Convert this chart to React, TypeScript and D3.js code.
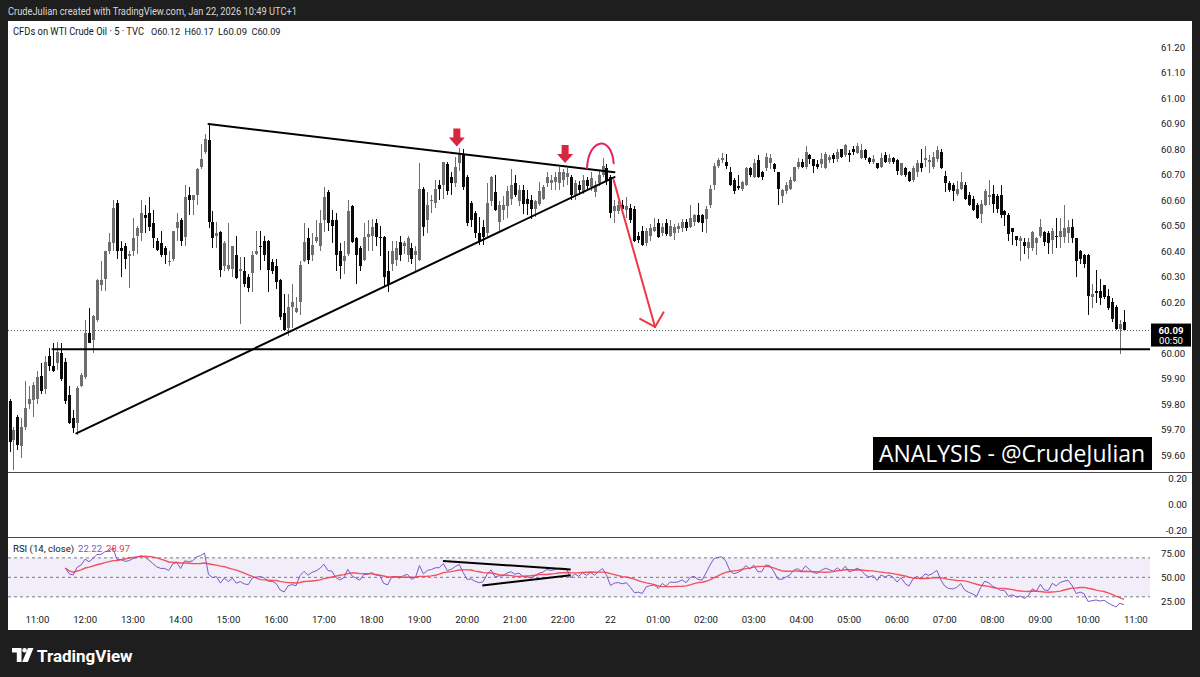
import React from "react";
import * as d3 from "d3";

type Bar = [number, number, number, number]; // open, high, low, close

// ---------- DATA ----------
const SESSION_1_START = "10:25"; // Jan 21, 5-minute bars until 22:55
const SESSION_2_START = "00:00"; // Jan 22, 5-minute bars until 10:45
const BAR_MINUTES = 5;
const FUTURE_BARS = 3;

const SESSION_1_BARS: Bar[] = [
  [59.81, 59.82, 59.61, 59.65], [59.66, 59.71, 59.54, 59.7], [59.75, 59.755, 59.62, 59.64], [59.635, 59.745, 59.59, 59.71],
  [59.71, 59.89, 59.7, 59.785], [59.8, 59.87, 59.78, 59.82], [59.815, 59.885, 59.75, 59.875], [59.82, 59.93, 59.8, 59.905],
  [59.91, 59.96, 59.84, 59.85], [59.86, 59.99, 59.84, 59.965], [59.99, 60.02, 59.93, 59.95], [59.95, 60.04, 59.925, 59.93],
  [59.96, 60.045, 59.935, 60.005], [60.0, 60.04, 59.89, 59.9], [59.966, 59.98, 59.8, 59.813], [59.835, 59.87, 59.72, 59.725],
  [59.745, 59.775, 59.686, 59.706], [59.725, 59.87, 59.68, 59.864], [59.87, 59.92, 59.865, 59.914], [59.905, 60.13, 59.9, 60.078],
  [60.08, 60.176, 60.04, 60.04], [60.05, 60.15, 60.0, 60.145], [60.13, 60.29, 60.12, 60.286], [60.266, 60.36, 60.245, 60.286],
  [60.29, 60.4, 60.245, 60.4], [60.4, 60.47, 60.39, 60.436], [60.43, 60.6, 60.4, 60.57], [60.59, 60.6, 60.37, 60.4],
  [60.41, 60.44, 60.3, 60.4], [60.42, 60.43, 60.33, 60.37], [60.38, 60.4, 60.255, 60.39], [60.4, 60.53, 60.38, 60.45],
  [60.46, 60.5, 60.39, 60.49], [60.47, 60.6, 60.44, 60.55], [60.54, 60.58, 60.47, 60.53], [60.55, 60.61, 60.48, 60.495],
  [60.51, 60.56, 60.41, 60.45], [60.44, 60.45, 60.4, 60.405], [60.43, 60.48, 60.375, 60.385], [60.41, 60.42, 60.35, 60.385],
  [60.355, 60.4, 60.34, 60.36], [60.37, 60.48, 60.36, 60.48], [60.49, 60.55, 60.44, 60.515], [60.52, 60.53, 60.42, 60.44],
  [60.455, 60.66, 60.42, 60.61], [60.62, 60.65, 60.54, 60.6], [60.6, 60.62, 60.54, 60.62], [60.62, 60.725, 60.58, 60.72],
  [60.73, 60.82, 60.72, 60.76], [60.79, 60.86, 60.78, 60.84], [60.835, 60.9, 60.49, 60.515], [60.515, 60.555, 60.41, 60.45],
  [60.46, 60.515, 60.41, 60.47], [60.475, 60.48, 60.3, 60.325], [60.34, 60.44, 60.32, 60.43], [60.33, 60.51, 60.32, 60.345],
  [60.33, 60.42, 60.3, 60.42], [60.385, 60.46, 60.29, 60.295], [60.32, 60.375, 60.115, 60.33], [60.32, 60.375, 60.26, 60.27],
  [60.3, 60.31, 60.24, 60.255], [60.315, 60.4, 60.24, 60.385], [60.39, 60.48, 60.385, 60.4], [60.42, 60.48, 60.325, 60.415],
  [60.44, 60.46, 60.36, 60.385], [60.44, 60.445, 60.24, 60.325], [60.355, 60.37, 60.31, 60.32], [60.34, 60.37, 60.25, 60.28],
  [60.285, 60.29, 60.13, 60.14], [60.155, 60.23, 60.085, 60.09], [60.1, 60.23, 60.065, 60.18], [60.18, 60.27, 60.1, 60.2],
  [60.16, 60.22, 60.155, 60.175], [60.2, 60.36, 60.15, 60.345], [60.36, 60.51, 60.355, 60.435], [60.45, 60.49, 60.35, 60.365],
  [60.385, 60.47, 60.36, 60.425], [60.44, 60.52, 60.43, 60.455], [60.42, 60.56, 60.4, 60.51], [60.52, 60.65, 60.475, 60.61],
  [60.63, 60.64, 60.48, 60.51], [60.52, 60.56, 60.43, 60.5], [60.52, 60.55, 60.32, 60.385], [60.4, 60.43, 60.29, 60.34],
  [60.36, 60.44, 60.31, 60.38], [60.39, 60.6, 60.38, 60.555], [60.575, 60.58, 60.43, 60.435], [60.45, 60.455, 60.27, 60.385],
  [60.41, 60.42, 60.32, 60.34], [60.365, 60.51, 60.36, 60.455], [60.455, 60.52, 60.4, 60.465], [60.46, 60.525, 60.4, 60.495],
  [60.51, 60.525, 60.42, 60.455], [60.455, 60.5, 60.38, 60.45], [60.455, 60.46, 60.26, 60.3], [60.32, 60.4, 60.24, 60.265],
  [60.35, 60.44, 60.32, 60.4], [60.365, 60.44, 60.34, 60.41], [60.435, 60.46, 60.36, 60.385], [60.42, 60.44, 60.39, 60.43],
  [60.385, 60.46, 60.355, 60.45], [60.41, 60.43, 60.35, 60.37], [60.385, 60.42, 60.32, 60.4], [60.365, 60.745, 60.36, 60.645],
  [60.645, 60.65, 60.46, 60.495], [60.52, 60.63, 60.47, 60.58], [60.595, 60.62, 60.55, 60.6], [60.59, 60.68, 60.57, 60.645],
  [60.66, 60.68, 60.6, 60.645], [60.66, 60.75, 60.605, 60.75], [60.74, 60.75, 60.62, 60.635], [60.69, 60.71, 60.62, 60.665],
  [60.665, 60.77, 60.65, 60.73], [60.745, 60.805, 60.715, 60.785], [60.775, 60.8, 60.64, 60.65], [60.69, 60.7, 60.5, 60.51],
  [60.59, 60.595, 60.495, 60.52], [60.55, 60.555, 60.45, 60.47], [60.47, 60.535, 60.425, 60.44], [60.495, 60.52, 60.425, 60.455],
  [60.47, 60.665, 60.455, 60.59], [60.595, 60.695, 60.575, 60.69], [60.63, 60.7, 60.555, 60.56], [60.515, 60.595, 60.48, 60.58],
  [60.56, 60.615, 60.52, 60.58], [60.575, 60.655, 60.53, 60.635], [60.605, 60.72, 60.58, 60.66], [60.665, 60.7, 60.61, 60.62],
  [60.595, 60.66, 60.575, 60.64], [60.64, 60.66, 60.545, 60.585], [60.605, 60.64, 60.54, 60.585], [60.6, 60.62, 60.525, 60.565],
  [60.565, 60.6, 60.535, 60.595], [60.585, 60.67, 60.575, 60.635], [60.605, 60.66, 60.6, 60.65], [60.665, 60.71, 60.65, 60.69],
  [60.665, 60.7, 60.64, 60.68], [60.67, 60.71, 60.64, 60.69], [60.665, 60.73, 60.64, 60.71], [60.68, 60.72, 60.65, 60.71],
  [60.69, 60.725, 60.66, 60.705], [60.69, 60.7, 60.6, 60.62], [60.62, 60.68, 60.6, 60.665], [60.66, 60.675, 60.62, 60.64],
  [60.63, 60.7, 60.625, 60.68], [60.68, 60.69, 60.64, 60.655], [60.65, 60.71, 60.635, 60.685], [60.63, 60.675, 60.61, 60.66],
  [60.665, 60.715, 60.655, 60.7], [60.7, 60.765, 60.69, 60.735], [60.725, 60.74, 60.66, 60.675],
];

const SESSION_2_BARS: Bar[] = [
  [60.69, 60.7, 60.53, 60.55], [60.555, 60.6, 60.51, 60.575], [60.555, 60.595, 60.545, 60.58], [60.58, 60.6, 60.555, 60.565],
  [60.56, 60.61, 60.53, 60.575], [60.57, 60.585, 60.51, 60.52], [60.565, 60.575, 60.435, 60.44], [60.46, 60.475, 60.43, 60.445],
  [60.48, 60.5, 60.42, 60.425], [60.43, 60.49, 60.42, 60.48], [60.46, 60.505, 60.44, 60.49], [60.48, 60.53, 60.475, 60.495],
  [60.51, 60.525, 60.45, 60.455], [60.47, 60.51, 60.46, 60.495], [60.51, 60.525, 60.46, 60.465], [60.46, 60.52, 60.455, 60.5],
  [60.47, 60.505, 60.445, 60.495], [60.485, 60.51, 60.47, 60.5], [60.49, 60.525, 60.475, 60.515], [60.515, 60.525, 60.48, 60.49],
  [60.495, 60.58, 60.49, 60.53], [60.515, 60.545, 60.5, 60.54], [60.54, 60.59, 60.51, 60.515], [60.54, 60.545, 60.475, 60.51],
  [60.525, 60.575, 60.47, 60.565], [60.58, 60.66, 60.57, 60.645], [60.66, 60.745, 60.64, 60.735], [60.735, 60.765, 60.725, 60.755],
  [60.755, 60.785, 60.745, 60.765], [60.75, 60.78, 60.72, 60.735], [60.71, 60.73, 60.655, 60.66], [60.68, 60.685, 60.625, 60.635],
  [60.655, 60.7, 60.64, 60.648], [60.645, 60.675, 60.635, 60.67], [60.66, 60.73, 60.655, 60.725], [60.725, 60.73, 60.69, 60.7],
  [60.69, 60.76, 60.685, 60.745], [60.755, 60.775, 60.685, 60.69], [60.71, 60.715, 60.68, 60.69], [60.725, 60.785, 60.715, 60.77],
  [60.745, 60.78, 60.72, 60.765], [60.74, 60.745, 60.71, 60.72], [60.71, 60.71, 60.58, 60.645], [60.615, 60.645, 60.59, 60.64],
  [60.635, 60.67, 60.625, 60.66], [60.645, 60.69, 60.64, 60.68], [60.675, 60.73, 60.67, 60.73], [60.73, 60.765, 60.72, 60.75],
  [60.75, 60.76, 60.725, 60.73], [60.73, 60.81, 60.72, 60.79], [60.775, 60.78, 60.74, 60.76], [60.76, 60.76, 60.705, 60.735],
  [60.74, 60.755, 60.72, 60.73], [60.74, 60.785, 60.725, 60.76], [60.725, 60.79, 60.72, 60.78], [60.755, 60.775, 60.745, 60.77],
  [60.775, 60.785, 60.745, 60.76], [60.76, 60.8, 60.75, 60.79], [60.8, 60.8, 60.765, 60.77], [60.776, 60.82, 60.77, 60.815],
  [60.785, 60.795, 60.75, 60.775], [60.8, 60.81, 60.775, 60.79], [60.785, 60.825, 60.78, 60.81], [60.765, 60.82, 60.76, 60.795],
  [60.795, 60.8, 60.755, 60.765], [60.765, 60.77, 60.74, 60.75], [60.75, 60.775, 60.74, 60.76], [60.745, 60.745, 60.72, 60.725],
  [60.73, 60.785, 60.725, 60.765], [60.775, 60.79, 60.745, 60.75], [60.75, 60.78, 60.74, 60.765], [60.765, 60.77, 60.74, 60.75],
  [60.755, 60.76, 60.7, 60.715], [60.7, 60.745, 60.695, 60.745], [60.725, 60.73, 60.69, 60.7], [60.71, 60.715, 60.67, 60.675],
  [60.68, 60.735, 60.67, 60.725], [60.71, 60.755, 60.69, 60.745], [60.745, 60.8, 60.71, 60.725], [60.755, 60.81, 60.73, 60.765],
  [60.75, 60.775, 60.705, 60.755], [60.73, 60.79, 60.72, 60.77], [60.76, 60.81, 60.75, 60.795], [60.79, 60.8, 60.72, 60.725],
  [60.695, 60.715, 60.63, 60.665], [60.665, 60.675, 60.63, 60.64], [60.66, 60.665, 60.595, 60.635], [60.625, 60.675, 60.615, 60.645],
  [60.645, 60.71, 60.64, 60.67], [60.66, 60.67, 60.6, 60.605], [60.62, 60.63, 60.575, 60.58], [60.605, 60.615, 60.555, 60.56],
  [60.58, 60.59, 60.525, 60.53], [60.545, 60.6, 60.51, 60.585], [60.58, 60.645, 60.575, 60.635], [60.61, 60.68, 60.58, 60.62],
  [60.625, 60.66, 60.55, 60.585], [60.615, 60.625, 60.55, 60.565], [60.62, 60.66, 60.53, 60.54], [60.555, 60.56, 60.5, 60.54],
  [60.54, 60.55, 60.44, 60.465], [60.49, 60.49, 60.425, 60.475], [60.46, 60.46, 60.42, 60.445], [60.44, 60.46, 60.36, 60.45],
  [60.435, 60.45, 60.39, 60.42], [60.41, 60.45, 60.37, 60.435], [60.41, 60.48, 60.4, 60.475], [60.43, 60.455, 60.385, 60.45],
  [60.46, 60.525, 60.45, 60.495], [60.475, 60.48, 60.42, 60.435], [60.47, 60.48, 60.39, 60.43], [60.445, 60.49, 60.39, 60.48],
  [60.46, 60.53, 60.41, 60.455], [60.455, 60.53, 60.41, 60.48], [60.455, 60.58, 60.43, 60.49], [60.47, 60.52, 60.43, 60.495],
  [60.495, 60.525, 60.43, 60.45], [60.45, 60.45, 60.3, 60.36], [60.4, 60.405, 60.35, 60.37], [60.385, 60.39, 60.335, 60.35],
  [60.385, 60.39, 60.15, 60.225], [60.22, 60.27, 60.175, 60.23], [60.245, 60.325, 60.195, 60.235], [60.245, 60.29, 60.19, 60.215],
  [60.265, 60.265, 60.21, 60.22], [60.225, 60.25, 60.17, 60.175], [60.2, 60.215, 60.12, 60.135], [60.18, 60.19, 60.09, 60.095],
  [60.095, 60.13, 59.995, 60.115], [60.12, 60.17, 60.09, 60.09],
];

const PRICE_TICKS = [59.6, 59.7, 59.8, 59.9, 60.0, 60.2, 60.3, 60.4, 60.5, 60.6, 60.7, 60.8, 60.9, 61.0, 61.1, 61.2];
const PANE2_TICKS = [0.2, 0.0, -0.2];
const RSI_TICKS = [75, 50, 25];
const RSI_LEVELS = [70, 50, 30];
const RSI_LENGTH = 14;
const RSI_MA_LENGTH = 14;

const TITLE = "CrudeJulian created with TradingView.com, Jan 22, 2026 10:49 UTC+1";
const SYMBOL = "CFDs on WTI Crude Oil \u00b7 5 \u00b7 TVC";
const OHLC_LABELS = ["O60.12", "H60.17", "L60.09", "C60.09"];
const RSI_TITLE = "RSI (14, close)";
const RSI_VALUES = ["22.22", "28.97"];
const LAST_PRICE = 60.09;
const COUNTDOWN = "00:50";
const WATERMARK = "ANALYSIS - @CrudeJulian";

// drawings (bar index, price)
const TRI_UPPER = [{ bar: 50, price: 60.898 }, { bar: 152, price: 60.709 }];
const TRI_LOWER = [{ bar: 16.8, price: 59.685 }, { bar: 152, price: 60.69 }];
const SUPPORT = { bar: 10.8, price: 60.015 };
const DOWN_MARKERS = [{ bar: 112.4, price: 60.81 }, { bar: 139.6, price: 60.745 }];
const ARC = [{ bar: 145.1, price: 60.724 }, { bar: 151.8, price: 60.744 }];
const ARROW = [{ bar: 151.8, price: 60.678 }, { bar: 162.2, price: 60.102 }];
const RSI_UPPER_LINE = [{ bar: 108.9, v: 66.8 }, { bar: 141, v: 58 }];
const RSI_LOWER_LINE = [{ bar: 118.8, v: 41.6 }, { bar: 141, v: 52.2 }];

// ---------- helpers ----------
const toMin = (s: string) => { const [h, m] = s.split(":").map(Number); return h * 60 + m; };

function computeRsi(closes: number[], len: number): number[] {
  const out: number[] = [NaN];
  let ag = 0, al = 0;
  for (let i = 1; i < closes.length; i++) {
    const ch = closes[i] - closes[i - 1];
    const n = Math.min(i, len);
    ag += (Math.max(ch, 0) - ag) / n;
    al += (Math.max(-ch, 0) - al) / n;
    out.push(al === 0 ? 100 : 100 - 100 / (1 + ag / al));
  }
  return out;
}
function sma(vals: number[], len: number, start: number): number[] {
  return vals.map((_, i) => {
    if (i < start) return NaN;
    const from = Math.max(start, i - len + 1);
    return d3.mean(vals.slice(from, i + 1)) as number;
  });
}

const FONT = "Roboto, 'Liberation Sans', sans-serif";
const TXT = "#131722";

export default function App() {
  const bars = [...SESSION_1_BARS, ...SESSION_2_BARS];
  const n = bars.length;
  const s1 = SESSION_1_BARS.length;

  const timeOf = (i: number) => i < s1 ? toMin(SESSION_1_START) + i * BAR_MINUTES : toMin(SESSION_2_START) + (i - s1) * BAR_MINUTES;
  const timeTicks: { i: number; label: string }[] = [];
  for (let i = 0; i < n + FUTURE_BARS + 1; i++) {
    const t = timeOf(i);
    if (t % 60 === 0) {
      const h = Math.floor(t / 60) % 24;
      const label = i === s1 ? "22" : `${String(h).padStart(2, "0")}:00`;
      timeTicks.push({ i, label });
    }
  }

  const x = d3.scaleLinear().domain([0, 283]).range([9.5, 9.5 + 3.98 * 283]);
  const y = d3.scaleLinear().domain([59.6, 61.2]).range([455, 47]);
  const yP2 = d3.scaleLinear().domain([-0.2, 0.2]).range([530, 478]);
  const yR = d3.scaleLinear().domain([25, 75]).range([601.7, 553]);

  const closes = bars.map(b => b[3]);
  const rsi = computeRsi(closes, RSI_LENGTH);
  const rsiMa = sma(rsi, RSI_MA_LENGTH, RSI_LENGTH);
  const line = d3.line<number>().defined((v, i) => i >= RSI_LENGTH && !isNaN(v)).x((_, i) => x(i)).y(v => yR(v));

  const plotL = 8, plotR = 1150;
  const px = (p: { bar: number; price: number }) => [x(p.bar), y(p.price)];

  // arrow head
  const [ax1, ay1] = px(ARROW[0]);
  const [ax2, ay2] = px(ARROW[1]);
  const ang = Math.atan2(ay2 - ay1, ax2 - ax1);
  const hl = 17;
  const head = [ang + Math.PI - 0.8, ang + Math.PI + 0.8].map(a => [ax2 + hl * Math.cos(a), ay2 + hl * Math.sin(a)]);

  const [arcX1, arcY1] = px(ARC[0]);
  const [arcX2, arcY2] = px(ARC[1]);
  const arcPath = `M${arcX1},${arcY1} C${arcX1 + 1.5},${arcY1 - 31} ${arcX2 - 2},${arcY2 - 28} ${arcX2},${arcY2}`;

  return (
    <div style={{ position: "absolute", left: 0, top: 0, width: 1200, height: 677 }}>
      <svg width={1200} height={677} style={{ display: "block" }} fontFamily={FONT}>
        <defs>
          <clipPath id="pricePane"><rect x={plotL} y={21} width={plotR - plotL} height={451} /></clipPath>
          <clipPath id="rsiPane"><rect x={plotL} y={538} width={plotR - plotL} height={72} /></clipPath>
        </defs>
        <rect x={0} y={0} width={1200} height={677} fill="#1e1e1e" />
        <rect x={8} y={21} width={1184} height={609} fill="#ffffff" />
        <text x={8} y={15} fontSize={10.5} fill="#d8d8d8" textLength={289} lengthAdjust="spacingAndGlyphs">{TITLE}</text>

        {/* legend */}
        <text x={13} y={35} fontSize={10} fill={TXT} textLength={131} lengthAdjust="spacingAndGlyphs">{SYMBOL}</text>
        {OHLC_LABELS.map((t, k) => (
          <text key={t} x={151 + k * 33.5} y={35} fontSize={9.6} fill={TXT} textLength={29} lengthAdjust="spacingAndGlyphs">{t}</text>
        ))}

        {/* current price dotted line */}
        <line x1={plotL} x2={plotR} y1={y(LAST_PRICE) + 0.5} y2={y(LAST_PRICE) + 0.5} stroke="#555" strokeDasharray="1 2" />

        {/* candles */}
        <g clipPath="url(#pricePane)" shapeRendering="crispEdges">
          {bars.map(([o, h, l, c], i) => {
            const up = c >= o;
            const col = up ? "#6e6e6e" : "#0a0a0a";
            const cx = Math.round(x(i));
            const top = y(Math.max(o, c)), bot = y(Math.min(o, c));
            return (
              <g key={i}>
                <rect x={cx} y={y(h)} width={1} height={Math.max(1, y(l) - y(h))} fill={col} />
                <rect x={cx - 1} y={top} width={3} height={Math.max(1, bot - top)} fill={col} />
              </g>
            );
          })}
        </g>

        {/* drawings */}
        <g clipPath="url(#pricePane)" fill="none" strokeLinecap="round">
          <line x1={px(TRI_UPPER[0])[0]} y1={px(TRI_UPPER[0])[1]} x2={px(TRI_UPPER[1])[0]} y2={px(TRI_UPPER[1])[1]} stroke="#000" strokeWidth={2} />
          <line x1={px(TRI_LOWER[0])[0]} y1={px(TRI_LOWER[0])[1]} x2={px(TRI_LOWER[1])[0]} y2={px(TRI_LOWER[1])[1]} stroke="#000" strokeWidth={2} />
          <line x1={px(SUPPORT)[0]} y1={y(SUPPORT.price)} x2={plotR} y2={y(SUPPORT.price)} stroke="#000" strokeWidth={2} />
          <path d={arcPath} stroke="#e0245e" strokeWidth={2} />
          <line x1={ax1} y1={ay1} x2={ax2} y2={ay2} stroke="#f23645" strokeWidth={2} />
          {head.map(([hx, hy], k) => <line key={k} x1={ax2} y1={ay2} x2={hx} y2={hy} stroke="#f23645" strokeWidth={2} />)}
        </g>
        {DOWN_MARKERS.map((m, k) => {
          const [mx, my] = px({ bar: m.bar, price: m.price });
          return (
            <path key={k} fill="#d7263d"
              d={`M${mx - 3.5},${my - 18} h7 v9 h4.5 L${mx},${my} L${mx - 8},${my - 9} h4.5 Z`} />
          );
        })}

        {/* watermark box */}
        <rect x={873} y={437} width={279} height={33} fill="#000" />
        <text x={879} y={462} fontSize={24} fill="#fff" fontFamily="'Open Sans', sans-serif" textLength={266} lengthAdjust="spacingAndGlyphs">{WATERMARK}</text>

        {/* price axis */}
        {PRICE_TICKS.map(p => (
          <text key={p} x={1161} y={y(p) + 3.5} fontSize={9.6} fill={TXT}>{p.toFixed(2)}</text>
        ))}
        <rect x={1151} y={y(LAST_PRICE) - 6.5} width={40} height={23} fill="#000" />
        <text x={1171} y={y(LAST_PRICE) + 3.5} fontSize={9.6} fontWeight={700} fill="#fff" textAnchor="middle">{LAST_PRICE.toFixed(2)}</text>
        <text x={1171} y={y(LAST_PRICE) + 13.5} fontSize={9.6} fill="#fff" textAnchor="middle">{COUNTDOWN}</text>

        {/* pane separators */}
        <line x1={8} x2={1192} y1={472.5} y2={472.5} stroke="#4a4a4a" strokeWidth={1.2} />
        <line x1={8} x2={1192} y1={537.5} y2={537.5} stroke="#4a4a4a" strokeWidth={1.2} />

        {/* empty pane */}
        {PANE2_TICKS.map(v => (
          <text key={v} x={1187} y={yP2(v) + 3.5} fontSize={9.6} fill={TXT} textAnchor="end">{v.toFixed(2)}</text>
        ))}

        {/* RSI pane */}
        <rect x={plotL} y={yR(70)} width={plotR - plotL} height={yR(30) - yR(70)} fill="#7e57c2" fillOpacity={0.1} />
        {RSI_LEVELS.map(v => (
          <line key={v} x1={plotL} x2={plotR} y1={yR(v)} y2={yR(v)} stroke="#787b86" strokeDasharray="3 3" strokeWidth={1} />
        ))}
        <g clipPath="url(#rsiPane)" fill="none">
          <path d={line(rsi) || ""} stroke="#7e57c2" strokeWidth={1} />
          <path d={line(rsiMa) || ""} stroke="#f23645" strokeOpacity={0.85} strokeWidth={1.4} />
          {[RSI_UPPER_LINE, RSI_LOWER_LINE].map((ln, k) => (
            <line key={k} x1={x(ln[0].bar)} y1={yR(ln[0].v)} x2={x(ln[1].bar)} y2={yR(ln[1].v)} stroke="#000" strokeWidth={2} />
          ))}
        </g>
        <text x={13} y={552} fontSize={9.6} fill={TXT}>{RSI_TITLE}</text>
        <text x={78} y={552} fontSize={9.6} fill="#7e57c2">{RSI_VALUES[0]}</text>
        <text x={106} y={552} fontSize={9.6} fill="#f23645">{RSI_VALUES[1]}</text>
        {RSI_TICKS.map(v => (
          <text key={v} x={1161} y={yR(v) + 3.5} fontSize={9.6} fill={TXT}>{v.toFixed(2)}</text>
        ))}

        {/* time axis */}
        {timeTicks.map(t => (
          <text key={t.i} x={x(t.i)} y={623} fontSize={9.6} fill={TXT} textAnchor="middle">{t.label}</text>
        ))}

        {/* footer logo */}
        <g fill="#ffffff">
          <path d="M12,648 H21.5 V662 H16.8 V652.6 H12 Z" />
          <circle cx={24.6} cy={650.3} r={2.3} />
          <path d="M28,648 H33.5 L27.8,662 H22.2 Z" />
          <text x={37} y={662} fontSize={17} fontWeight={700} fontFamily="Roboto, sans-serif">TradingView</text>
        </g>
      </svg>
    </div>
  );
}
